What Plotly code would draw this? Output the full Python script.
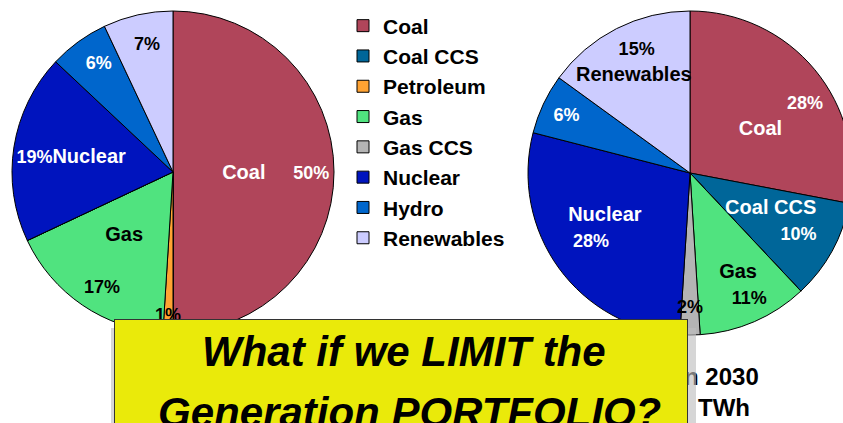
import plotly.graph_objects as go

W, H = 860, 423  # window is 843 wide; the right pie runs off the right edge as in the reference

# ---- data ----
categories = ["Coal", "Coal CCS", "Petroleum", "Gas", "Gas CCS", "Nuclear", "Hydro", "Renewables"]
share_now = [50, 0, 1, 17, 0, 19, 6, 7]
share_2030 = [28, 10, 0, 11, 2, 28, 6, 15]
slice_colors = ["#B0455A", "#006699", "#FFA333", "#50E37F", "#B4B4B4", "#0014BE", "#0066CC", "#CCCCFF"]
label_colors = ["white", "white", "black", "black", "black", "white", "white", "black"]
box_line1 = "What if we LIMIT the"
box_line2 = "Generation PORTFOLIO?"
note_line1 = "Generation in 2030"
note_line2 = "TWh"

NB = "\u00a0"
FONT = "Liberation Sans, Arial, sans-serif"

# label layout per slice ({n}=name, {p}=percent)
left_fmt = [NB * 8 + "{n}" + NB * 5 + "{p}", "", "{p}<br>" + NB, NB * 4 + "{n}<br><br>{p}" + NB * 4, "",
            "{p}{n}", NB * 2 + "{p}", NB + "{p}"]
right_fmt = [NB * 16 + "{p}<br>{n}", "{n}" + NB * 10 + "<br>{p}<br>" + NB, "", "{n}<br>" + NB * 4 + "{p}",
             "{p}<br>" + NB, "{n}" + NB * 4 + "<br>{p}" + NB * 9, "{p}",
             "{p}" + NB + "<br>{n}" + NB * 2 + "<br>" + NB]


def build_text(fmts, values):
    out = []
    for f, n, v in zip(fmts, categories, values):
        p = '<span style="font-size:18px">%d%%</span>' % v
        out.append(f.format(n=n, p=p) if v > 0 else "")
    return out


def px_x(x):
    return x / W


def px_y(y):
    return (H - y) / H


fig = go.Figure()

pies = [
    (share_now, left_fmt, dict(x=[px_x(12), px_x(334)], y=[px_y(333), px_y(11)])),
    (share_2030, right_fmt, dict(x=[px_x(528), px_x(852)], y=[px_y(335), px_y(11)])),
]

# coloured slices (these also feed the legend)
for vals, fmts, dom in pies:
    fig.add_trace(go.Pie(
        labels=categories, values=vals, sort=False, direction="clockwise", rotation=0, domain=dom,
        marker=dict(colors=slice_colors, line=dict(color="black", width=1)),
        textinfo="none", hoverinfo="label+percent",
    ))

# labels drawn on top of every slice
for vals, fmts, dom in pies:
    fig.add_trace(go.Pie(
        labels=categories, values=vals, sort=False, direction="clockwise", rotation=0, domain=dom,
        marker=dict(colors=["rgba(0,0,0,0)"] * len(categories), line=dict(width=0)),
        text=build_text(fmts, vals), textinfo="text", textposition="inside",
        insidetextorientation="horizontal",
        textfont=dict(family=FONT, size=20, color=label_colors, weight="bold"),
        showlegend=False, hoverinfo="skip",
    ))

annotations = [
    dict(text="<b>%s</b>" % note_line1, x=px_x(760), y=px_y(376), xanchor="right", yanchor="middle",
         showarrow=False, font=dict(family=FONT, size=24, color="black"), borderpad=0),
    dict(text="<b>%s</b>" % note_line2, x=px_x(697), y=px_y(407), xanchor="left", yanchor="middle",
         showarrow=False, font=dict(family=FONT, size=24, color="black"), borderpad=0),
    # shadow
    dict(text="", x=px_x(111), y=px_y(328), xanchor="left", yanchor="top", showarrow=False,
         width=585, height=160, bgcolor="rgba(190,190,190,0.63)", borderpad=0, borderwidth=0),
    # yellow box
    dict(text="", x=px_x(114), y=px_y(319), xanchor="left", yanchor="top",
         showarrow=False, width=572, height=150,
         bgcolor="#EAEA0A", bordercolor="#333333", borderwidth=1, borderpad=0),
    dict(text="<b><i>%s</i></b>" % box_line1, x=px_x(404), y=px_y(327), xanchor="center", yanchor="top",
         showarrow=False, borderpad=0, font=dict(family=FONT, size=42, color="black")),
    dict(text="<b><i>%s</i></b>" % box_line2, x=px_x(409), y=px_y(388), xanchor="center", yanchor="top",
         showarrow=False, borderpad=0, font=dict(family=FONT, size=42, color="black")),
]

fig.update_layout(
    width=W, height=H,
    margin=dict(l=0, r=0, t=0, b=0),
    paper_bgcolor="white",
    plot_bgcolor="white",
    uniformtext=dict(minsize=20, mode="show"),
    legend=dict(
        x=px_x(343), y=px_y(5.5), xanchor="left", yanchor="top",
        font=dict(family=FONT, size=21, color="black", weight="bold"),
        bgcolor="rgba(0,0,0,0)",
    ),
    annotations=annotations,
)

fig.write_html(
    "out.html",
    config={"displayModeBar": False},
    post_script="document.body.style.margin='0px';document.body.style.overflow='hidden';"
                "document.documentElement.style.overflow='hidden';",
)
